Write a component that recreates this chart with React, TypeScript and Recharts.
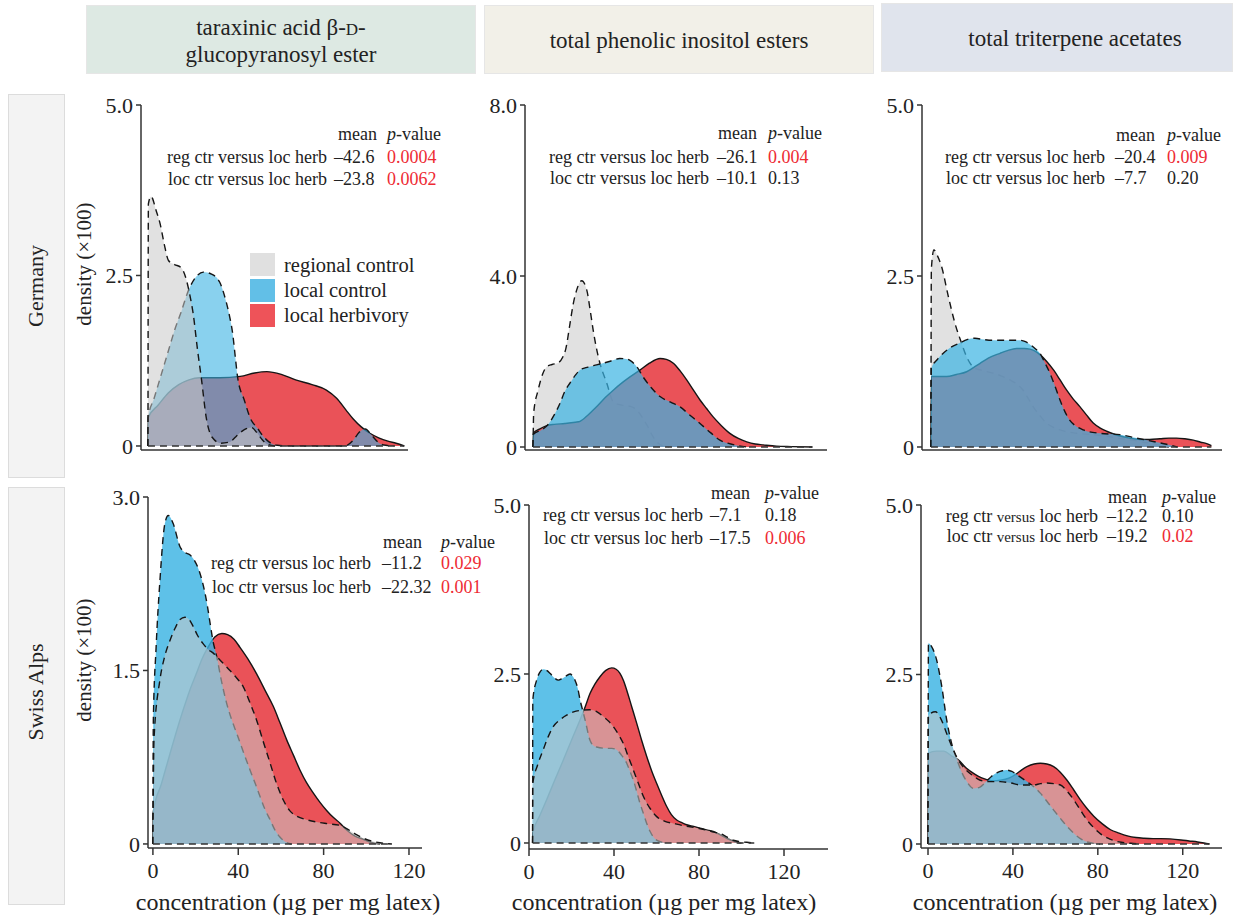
import React from 'react';
import { ComposedChart, Area, XAxis, YAxis, ReferenceLine } from 'recharts';

type Pt = [number, number];

// ---------- labels ----------
const seriesNames = ['regional control', 'local control', 'local herbivory'];
const rowTitles = ['Germany', 'Swiss Alps'];
const yTitle = 'density (×100)';
const xTitle = 'concentration (µg per mg latex)';
const xTicks = [0, 40, 80, 120];
const xTickLabels = ['0', '40', '80', '120'];

// ---------- Germany : taraxinic acid ----------
const gerTaraRegional: Pt[] = [[0, 0], [0.2, 3.55], [1.5, 3.66], [4, 3.45], [6, 3.25], [8, 2.95], [10, 2.72], [13, 2.66], [16, 2.62], [18.6, 2.45], [20.5, 2.2], [22, 1.95], [24.2, 1.4], [26, 1.0], [28.5, 0.4], [31.5, 0.12], [35.5, 0.04], [40, 0.06], [43, 0.14], [47, 0.24], [50.5, 0.27], [53, 0.2], [55.5, 0.1], [58, 0.03], [62, 0]];
const gerTaraLocal: Pt[] = [[0, 0], [0.2, 0.43], [3, 0.7], [6, 1.0], [10, 1.4], [13, 1.7], [16, 1.95], [20, 2.3], [24, 2.5], [27, 2.55], [31, 2.52], [35, 2.4], [37.9, 2.14], [39.8, 1.9], [41.3, 1.65], [42.6, 1.3], [43.7, 1.01], [47, 0.67], [50, 0.4], [53.4, 0.26], [56, 0.15], [59, 0.06], [63, 0.01], [68, 0], [96, 0], [100, 0.08], [103, 0.2], [106, 0.25], [109, 0.16], [112, 0.06], [116, 0.01], [120, 0]];
const gerTaraHerb: Pt[] = [[0, 0], [0.2, 0.42], [5, 0.6], [10, 0.78], [15, 0.9], [20, 0.97], [25, 1.0], [35, 1.0], [45, 1.02], [52, 1.07], [58, 1.09], [65, 1.05], [72, 0.97], [80, 0.9], [87, 0.82], [92, 0.7], [96.5, 0.53], [100, 0.4], [104, 0.28], [108, 0.19], [112.5, 0.12], [117, 0.07], [121, 0.04], [125, 0]];

// ---------- Germany : phenolic inositol esters ----------
const gerPhenRegional: Pt[] = [[0, 0], [0.3, 0.8], [2.4, 1.33], [4.5, 1.7], [6.5, 1.88], [9, 1.93], [11.9, 1.97], [14, 2.1], [15.5, 2.3], [17.5, 2.9], [19, 3.35], [20.6, 3.67], [23, 3.89], [25.4, 3.67], [27, 3.2], [28.4, 2.74], [30, 2.3], [31.6, 1.96], [34.8, 1.5], [38, 1.05], [42, 0.98], [46, 0.95], [49, 0.87], [51.5, 0.7], [54, 0.5], [56, 0.3], [58.5, 0.12], [61, 0.03], [64, 0]];
const gerPhenLocal: Pt[] = [[0, 0], [0.2, 0.3], [4, 0.4], [7, 0.52], [10, 0.75], [12.8, 1.03], [15, 1.3], [17.5, 1.5], [20, 1.68], [22.2, 1.8], [26, 1.87], [30, 1.92], [36, 2.0], [41, 2.07], [44, 2.06], [46, 2.02], [49, 1.88], [52, 1.64], [56, 1.38], [60, 1.18], [65, 1.05], [69.4, 0.94], [74, 0.75], [78.9, 0.55], [84, 0.33], [88.3, 0.16], [92, 0.09], [96, 0.04], [101, 0]];
const gerPhenHerb: Pt[] = [[0, 0], [0.2, 0.33], [3, 0.42], [6.5, 0.5], [10, 0.53], [15, 0.55], [20, 0.58], [22.2, 0.6], [26, 0.75], [30, 0.94], [34, 1.15], [37.9, 1.33], [42, 1.5], [45.8, 1.64], [50.5, 1.8], [55, 1.96], [60, 2.07], [63, 2.05], [66.3, 1.96], [69.5, 1.78], [72.6, 1.57], [75.8, 1.33], [78.9, 1.1], [82, 0.9], [85, 0.71], [89, 0.5], [93, 0.32], [97, 0.2], [101, 0.12], [105, 0.07], [108.7, 0.05], [115, 0.02], [122, 0.01], [132, 0]];

// ---------- Germany : triterpene acetates ----------
const gerTritRegional: Pt[] = [[0, 0], [0.2, 2.6], [1.4, 2.88], [3, 2.8], [5, 2.64], [8.2, 2.2], [11.3, 1.81], [14.4, 1.52], [16.8, 1.32], [19.9, 1.17], [24, 1.12], [29.3, 1.08], [33, 1.04], [37.2, 0.98], [40.5, 0.92], [43.4, 0.83], [46, 0.7], [48.1, 0.59], [51, 0.47], [54.4, 0.35], [57.5, 0.29], [60.7, 0.25], [68.6, 0.2], [76.4, 0.18], [84.3, 0.15], [90, 0.12], [95, 0.1], [100, 0.07], [104.6, 0.05], [108, 0.02], [112, 0]];
const gerTritLocal: Pt[] = [[0, 0], [0.2, 1.15], [3, 1.28], [5.8, 1.37], [9, 1.45], [13.6, 1.52], [17, 1.57], [20.7, 1.59], [25, 1.57], [29.3, 1.56], [35.6, 1.56], [41.9, 1.56], [44.5, 1.54], [46.6, 1.5], [49, 1.44], [51.3, 1.37], [53.5, 1.24], [56, 1.08], [58.5, 0.88], [60.7, 0.69], [63, 0.52], [65.4, 0.39], [68.5, 0.3], [71.7, 0.25], [79.5, 0.2], [89, 0.18], [96.8, 0.13], [104.6, 0.08], [110.9, 0.04], [116, 0]];
const gerTritHerb: Pt[] = [[0, 0], [0.2, 1.03], [7.4, 1.03], [12, 1.06], [16.8, 1.1], [20, 1.16], [23, 1.22], [27, 1.3], [32.5, 1.37], [36, 1.41], [40.3, 1.44], [44, 1.44], [46.6, 1.43], [49, 1.4], [51.3, 1.35], [54.5, 1.25], [57.6, 1.13], [60.8, 0.98], [63.9, 0.83], [67, 0.7], [70.1, 0.59], [73.2, 0.47], [76.4, 0.35], [79.5, 0.28], [82.7, 0.23], [86, 0.19], [89, 0.16], [93.5, 0.13], [98.4, 0.11], [103, 0.11], [107.8, 0.12], [112, 0.13], [115.6, 0.13], [119.5, 0.12], [123.5, 0.1], [127, 0.07], [129.8, 0.05], [132, 0.02]];

// ---------- Swiss Alps : taraxinic acid ----------
const swTaraRegional: Pt[] = [[0, 0], [0.5, 0.9], [3.3, 1.42], [5.5, 1.62], [8, 1.76], [10.5, 1.87], [12.7, 1.94], [15, 1.96], [17, 1.94], [18.9, 1.88], [21, 1.8], [23.6, 1.73], [26, 1.68], [28.3, 1.65], [29.9, 1.62], [33, 1.56], [36.1, 1.5], [39, 1.44], [42.3, 1.36], [45.5, 1.22], [48.6, 1.07], [51.8, 0.88], [54.9, 0.7], [58, 0.52], [61.1, 0.38], [64, 0.29], [67.4, 0.24], [72, 0.21], [76.7, 0.19], [82, 0.175], [87.7, 0.16], [91, 0.13], [94.5, 0.09], [98.6, 0.05], [102.5, 0.025], [106.4, 0.01], [112, 0]];
const swTaraLocal: Pt[] = [[0, 0], [0.2, 1.07], [1.5, 1.7], [3.3, 2.28], [5.6, 2.77], [7.2, 2.84], [9.5, 2.77], [12.7, 2.57], [15, 2.52], [17.3, 2.5], [19.5, 2.45], [21.3, 2.38], [23, 2.28], [24.4, 2.17], [25.6, 2.05], [26.7, 1.92], [28.1, 1.76], [29.9, 1.62], [32, 1.42], [34.5, 1.22], [36.8, 1.08], [39.2, 0.96], [42.3, 0.8], [45.5, 0.64], [48, 0.52], [50.2, 0.41], [52.5, 0.3], [54.9, 0.21], [57.2, 0.12], [59.5, 0.06], [62, 0.02], [65, 0]];
const swTaraHerb: Pt[] = [[0, 0], [0.2, 0.28], [4, 0.52], [8, 0.78], [11, 0.97], [14.2, 1.16], [17.3, 1.33], [20.5, 1.48], [23, 1.6], [25.2, 1.68], [29, 1.79], [32.3, 1.82], [35, 1.81], [38, 1.77], [40.8, 1.7], [44.5, 1.6], [48.6, 1.47], [52.5, 1.33], [56.4, 1.19], [59.5, 1.05], [62.7, 0.9], [65.8, 0.77], [68.9, 0.64], [72, 0.53], [75.2, 0.44], [78.3, 0.36], [81.4, 0.29], [84.5, 0.23], [87.7, 0.18], [90.8, 0.12], [94.5, 0.07], [98.6, 0.04], [102, 0.015], [106.4, 0]];

// ---------- Swiss Alps : phenolic inositol esters ----------
const swPhenRegional: Pt[] = [[1.7, 0], [1.8, 0.88], [4, 1.15], [6.7, 1.38], [9, 1.57], [11.4, 1.72], [14.5, 1.82], [17.7, 1.89], [21, 1.94], [24, 1.96], [28.7, 1.97], [32, 1.94], [35, 1.87], [37.5, 1.8], [39.7, 1.72], [42, 1.61], [44.4, 1.47], [46.7, 1.28], [49.1, 1.08], [51.5, 0.88], [53.8, 0.69], [57, 0.51], [60.1, 0.39], [64, 0.32], [67.9, 0.29], [72, 0.26], [75.8, 0.24], [80, 0.215], [83.6, 0.19], [87, 0.16], [89.9, 0.14], [93, 0.09], [96.1, 0.04], [99, 0.02], [102.4, 0.01], [106, 0]];
const swPhenLocal: Pt[] = [[1.7, 0], [1.8, 2.12], [3.6, 2.41], [5, 2.52], [6.7, 2.57], [8.5, 2.55], [9.9, 2.51], [12, 2.44], [13.8, 2.41], [15.5, 2.43], [17, 2.46], [19.3, 2.5], [20.5, 2.47], [21.6, 2.41], [23, 2.28], [24, 2.12], [25.2, 1.97], [26.4, 1.82], [28.7, 1.52], [30, 1.45], [31.8, 1.42], [36.5, 1.4], [39, 1.4], [41.2, 1.38], [43.5, 1.3], [46, 1.18], [47.5, 1.06], [49.1, 0.93], [50.7, 0.76], [52.2, 0.59], [53.8, 0.44], [55.4, 0.29], [57, 0.17], [58.5, 0.09], [61.7, 0.02], [65, 0]];
const swPhenHerb: Pt[] = [[1.7, 0], [1.8, 0.15], [5, 0.4], [8.3, 0.64], [12, 0.92], [16.2, 1.23], [20, 1.52], [24, 1.82], [26.5, 2.02], [28.7, 2.21], [31, 2.35], [33.4, 2.46], [36, 2.55], [38.9, 2.59], [41, 2.57], [42.8, 2.51], [44.5, 2.4], [46, 2.26], [48.3, 2.02], [50.7, 1.77], [53, 1.52], [55.4, 1.28], [57.7, 1.07], [60.1, 0.88], [62.5, 0.7], [64.8, 0.54], [67, 0.42], [69.5, 0.34], [72, 0.3], [74.2, 0.27], [77.5, 0.245], [80.5, 0.22], [83.5, 0.195], [86.7, 0.17], [90, 0.12], [93, 0.07], [95.5, 0.035], [97.7, 0.01], [100, 0]];

// ---------- Swiss Alps : triterpene acetates ----------
const swTritRegional: Pt[] = [[0, 0], [0.2, 1.9], [3.5, 1.95], [6, 1.85], [8.8, 1.63], [11.2, 1.44], [13.6, 1.28], [16, 1.16], [18.3, 1.08], [21.5, 1.0], [24.6, 0.94], [29, 0.92], [34, 0.92], [39, 0.9], [43.5, 0.87], [49.8, 0.87], [53, 0.89], [56, 0.9], [59.2, 0.89], [62.4, 0.87], [65.5, 0.78], [68.7, 0.65], [71.8, 0.5], [75, 0.35], [78.1, 0.24], [81.3, 0.15], [84.5, 0.09], [87.6, 0.05], [91, 0.025], [95.5, 0.01], [100, 0]];
const swTritLocal: Pt[] = [[0, 0], [0.2, 2.96], [1.7, 2.91], [4.1, 2.71], [6.5, 2.32], [8.8, 1.83], [11, 1.5], [13.6, 1.25], [16, 1.05], [18.3, 0.92], [21.4, 0.82], [24.5, 0.84], [27.7, 0.93], [30, 1.0], [32.4, 1.05], [35, 1.08], [37.2, 1.09], [39.5, 1.07], [41.9, 1.02], [46.6, 0.92], [50, 0.84], [52.9, 0.75], [56, 0.63], [59.2, 0.5], [62.3, 0.38], [65.5, 0.26], [68.6, 0.16], [71.8, 0.08], [75, 0.03], [78, 0.01], [81, 0]];
const swTritHerb: Pt[] = [[0, 0], [0.2, 1.34], [4, 1.37], [7.5, 1.37], [11, 1.3], [14, 1.25], [18, 1.12], [22, 1.03], [25, 0.98], [27.7, 0.95], [31, 0.93], [34, 0.94], [38, 0.97], [41.9, 1.04], [44, 1.09], [46.6, 1.14], [50, 1.18], [52.9, 1.19], [56, 1.18], [59.2, 1.14], [62.3, 1.06], [65.5, 0.94], [68.6, 0.8], [71.8, 0.65], [75, 0.52], [78.1, 0.41], [82, 0.3], [86, 0.21], [90, 0.16], [93.9, 0.12], [98, 0.095], [101.8, 0.085], [106, 0.08], [109.7, 0.08], [114, 0.075], [119.2, 0.06], [123, 0.045], [127, 0.03], [130, 0.015], [132.6, 0]];

// ---------- statistics text ----------
const statMeans = [['–42.6', '–23.8'], ['–26.1', '–10.1'], ['–20.4', '–7.7'], ['–11.2', '–22.32'], ['–7.1', '–17.5'], ['–12.2', '–19.2']];
const statPValues = [['0.0004', '0.0062'], ['0.004', '0.13'], ['0.009', '0.20'], ['0.029', '0.001'], ['0.18', '0.006'], ['0.10', '0.02']];
const statSignificant = [[true, true], [true, false], [true, false], [true, true], [false, true], [false, true]];

const SERIF = '"Liberation Serif", "Times New Roman", Times, serif';
const GREY = '#c8c8c8';
const BLUE = '#3bb3e3';
const RED = '#e8434a';
const INK = '#222';
const PRED = '#ee2a33';

type Key = 'rc' | 'lc' | 'lh';
interface PanelCfg {
  series: Record<Key, Pt[]>;
  order: Key[];
  opacity: Record<Key, number>;
  axisX: number; topPx: number; axisY: number; right: number;
  xDomain: [number, number]; yDomain: [number, number];
  yTicks: number[]; yLabels: string[];
  bottom: boolean;
}

const topOrder: Key[] = ['lh', 'lc', 'rc'];
const bgOrder: Key[] = ['rc', 'lh', 'lc'];

const panels: PanelCfg[] = [
  { series: { rc: gerTaraRegional, lc: gerTaraLocal, lh: gerTaraHerb }, order: topOrder, opacity: { rc: 0.55, lc: 0.6, lh: 0.92 },
    axisX: 141, topPx: 105, axisY: 450, right: 408, xDomain: [-3.4, 126.8], yDomain: [-0.059, 5], yTicks: [0, 2.5, 5], yLabels: ['0', '2.5', '5.0'], bottom: false },
  { series: { rc: gerPhenRegional, lc: gerPhenLocal, lh: gerPhenHerb }, order: bgOrder, opacity: { rc: 0.55, lc: 0.7, lh: 0.92 },
    axisX: 525, topPx: 105, axisY: 450, right: 827, xDomain: [-3.8, 138.9], yDomain: [-0.07, 8], yTicks: [0, 4, 8], yLabels: ['0', '4.0', '8.0'], bottom: false },
  { series: { rc: gerTritRegional, lc: gerTritLocal, lh: gerTritHerb }, order: bgOrder, opacity: { rc: 0.55, lc: 0.7, lh: 0.92 },
    axisX: 922, topPx: 105, axisY: 450, right: 1222, xDomain: [-4.2, 137], yDomain: [-0.044, 5], yTicks: [0, 2.5, 5], yLabels: ['0', '2.5', '5.0'], bottom: false },
  { series: { rc: swTaraRegional, lc: swTaraLocal, lh: swTaraHerb }, order: topOrder, opacity: { rc: 0.55, lc: 0.82, lh: 0.92 },
    axisX: 148, topPx: 497, axisY: 848, right: 422, xDomain: [-2.3, 126.1], yDomain: [-0.035, 3], yTicks: [0, 1.5, 3], yLabels: ['0', '1.5', '3.0'], bottom: true },
  { series: { rc: swPhenRegional, lc: swPhenLocal, lh: swPhenHerb }, order: topOrder, opacity: { rc: 0.55, lc: 0.82, lh: 0.92 },
    axisX: 529, topPx: 505, axisY: 849, right: 828, xDomain: [0, 140.7], yDomain: [-0.089, 5], yTicks: [0, 2.5, 5], yLabels: ['0', '2.5', '5.0'], bottom: true },
  { series: { rc: swTritRegional, lc: swTritLocal, lh: swTritHerb }, order: topOrder, opacity: { rc: 0.55, lc: 0.82, lh: 0.92 },
    axisX: 921, topPx: 505, axisY: 848, right: 1222, xDomain: [-3.3, 138.5], yDomain: [-0.059, 5], yTicks: [0, 2.5, 5], yLabels: ['0', '2.5', '5.0'], bottom: true },
];

const colorOf: Record<Key, string> = { rc: GREY, lc: BLUE, lh: RED };

function Panel({ cfg }: { cfg: PanelCfg }) {
  const YW = 60, MT = 20, MR = 4;
  const XH = cfg.bottom ? 40 : 12;
  const plotW = cfg.right - cfg.axisX;
  const plotH = cfg.axisY - cfg.topPx;
  const width = YW + plotW + MR;
  const height = MT + plotH + XH;
  const allPts = [...cfg.series.rc, ...cfg.series.lc, ...cfg.series.lh];
  const minX = Math.min(...allPts.map((p) => p[0]));
  const maxX = Math.max(...allPts.map((p) => p[0]));
  return (
    <div style={{ position: 'absolute', left: cfg.axisX - YW, top: cfg.topPx - MT }}>
      <ComposedChart width={width} height={height} margin={{ top: MT, right: MR, bottom: 0, left: 0 }}>
        <XAxis type="number" dataKey="x" domain={cfg.xDomain} ticks={xTicks} allowDataOverflow interval={0}
          height={XH} tickSize={7} tickMargin={7}
          axisLine={{ stroke: '#333', strokeWidth: 1.5 }} tickLine={{ stroke: '#333', strokeWidth: 1.5 }}
          tick={cfg.bottom ? { fill: INK, fontSize: 22, fontFamily: SERIF } : false}
          tickFormatter={(v: number) => xTickLabels[xTicks.indexOf(v)] ?? String(v)} />
        <YAxis type="number" domain={cfg.yDomain} ticks={cfg.yTicks} allowDataOverflow interval={0}
          width={YW} tickSize={5} tickMargin={3}
          axisLine={{ stroke: '#333', strokeWidth: 1.5 }} tickLine={{ stroke: '#333', strokeWidth: 1.5 }}
          tick={{ fill: INK, fontSize: 22, fontFamily: SERIF }}
          tickFormatter={(v: number) => cfg.yLabels[cfg.yTicks.indexOf(v)] ?? String(v)} />
        {cfg.order.map((k) => (
          <Area key={k} data={cfg.series[k].map(([x, y]) => ({ x, y }))} dataKey="y" type="monotone"
            baseValue={0} fill={colorOf[k]} fillOpacity={cfg.opacity[k]}
            stroke="#151515" strokeWidth={1.4}
            strokeDasharray={k === 'lh' ? undefined : '7 5'}
            dot={false} activeDot={false} isAnimationActive={false} name={seriesNames[['rc', 'lc', 'lh'].indexOf(k)]} />
        ))}
        <ReferenceLine segment={[{ x: minX, y: 0 }, { x: maxX, y: 0 }]} stroke="#333" strokeWidth={1.4} strokeDasharray="7 5" />
      </ComposedChart>
    </div>
  );
}

function T({ x, y, a = 'start', size = 18, color = INK, rot, children }: { x: number; y: number; a?: 'start' | 'middle' | 'end'; size?: number; color?: string; rot?: number; children: React.ReactNode }) {
  const tx = a === 'start' ? '0' : a === 'middle' ? '-50%' : '-100%';
  return (
    <div style={{ position: 'absolute', left: x, top: y, transform: `translate(${tx}, -50%)${rot ? ` rotate(${rot}deg)` : ''}`, whiteSpace: 'nowrap', fontSize: size, color, lineHeight: 1, fontFamily: SERIF }}>
      {children}
    </div>
  );
}

interface StatPos { aRight: number; valLeft: number; meanRight: number; pLeft: number; ys: number[]; smallVersus?: boolean }
const statPos: StatPos[] = [
  { aRight: 327, valLeft: 334, meanRight: 377, pLeft: 387, ys: [134, 157, 179] },
  { aRight: 709, valLeft: 717, meanRight: 757, pLeft: 768, ys: [133, 157, 178] },
  { aRight: 1105, valLeft: 1115, meanRight: 1155, pLeft: 1167, ys: [135, 157, 178] },
  { aRight: 371, valLeft: 382, meanRight: 422, pLeft: 441, ys: [542, 563, 587] },
  { aRight: 703, valLeft: 710, meanRight: 750, pLeft: 765, ys: [493, 515, 538] },
  { aRight: 1098, valLeft: 1107, meanRight: 1147, pLeft: 1162, ys: [497, 516, 536], smallVersus: true },
];
const compLabels = [['reg ctr', 'loc herb'], ['loc ctr', 'loc herb']];

function Stats({ i }: { i: number }) {
  const p = statPos[i];
  const fs = 18;
  return (
    <>
      <T x={p.meanRight} y={p.ys[0]} a="end" size={fs}>mean</T>
      <T x={p.pLeft} y={p.ys[0]} size={fs}><i>p</i>-value</T>
      {[0, 1].map((r) => (
        <React.Fragment key={r}>
          <T x={p.aRight} y={p.ys[r + 1]} a="end" size={fs}>
            {compLabels[r][0]} {p.smallVersus ? <span style={{ fontSize: 15 }}>versus</span> : 'versus'} {compLabels[r][1]}
          </T>
          <T x={p.valLeft} y={p.ys[r + 1]} size={fs}>{statMeans[i][r]}</T>
          <T x={p.pLeft} y={p.ys[r + 1]} size={fs} color={statSignificant[i][r] ? PRED : INK}>{statPValues[i][r]}</T>
        </React.Fragment>
      ))}
    </>
  );
}

const headerBoxes = [
  { x: 86, w: 390, y: 5, h: 69, bg: '#dde9e3' },
  { x: 484, w: 390, y: 5, h: 69, bg: '#f2f0e8' },
  { x: 881, w: 352, y: 3, h: 69, bg: '#e0e4ed' },
];
const rowBoxes = [
  { y: 94, h: 384 },
  { y: 487, h: 418 },
];

export default function App() {
  return (
    <div style={{ position: 'absolute', left: 0, top: 0, width: 1233, height: 916, background: '#fff', fontFamily: SERIF, color: INK, overflow: 'hidden' }}>
      {headerBoxes.map((b, i) => (
        <div key={i} style={{ position: 'absolute', left: b.x, top: b.y, width: b.w, height: b.h, background: b.bg, boxSizing: 'border-box', border: '1px solid #e6e6e6' }} />
      ))}
      <T x={281} y={27} a="middle" size={23}>taraxinic acid β-<span style={{ fontSize: 17 }}>D</span>-</T>
      <T x={281} y={54} a="middle" size={23}>glucopyranosyl ester</T>
      <T x={679} y={40} a="middle" size={23}>total phenolic inositol esters</T>
      <T x={1075} y={38} a="middle" size={23}>total triterpene acetates</T>

      {rowBoxes.map((b, i) => (
        <div key={i} style={{ position: 'absolute', left: 8, top: b.y, width: 57, height: b.h, background: '#f3f3f3', boxSizing: 'border-box', border: '1.5px solid #dcdcdc' }} />
      ))}
      <T x={36} y={286} a="middle" size={22} rot={-90}>{rowTitles[0]}</T>
      <T x={36} y={692} a="middle" size={22} rot={-90}>{rowTitles[1]}</T>
      <T x={84} y={264} a="middle" size={21} rot={-90}>{yTitle}</T>
      <T x={84} y={660} a="middle" size={21} rot={-90}>{yTitle}</T>

      {panels.map((cfg, i) => <Panel key={i} cfg={cfg} />)}

      {panels.map((_, i) => <Stats key={i} i={i} />)}

      {/* legend */}
      {[0, 1, 2].map((k) => (
        <React.Fragment key={k}>
          <div style={{ position: 'absolute', left: 250, top: 253 + k * 25.5, width: 25, height: 23, background: k === 0 ? '#e0e0e0' : k === 1 ? '#62bfe7' : '#ee5359' }} />
          <T x={284} y={265 + k * 25} size={20.5}>{seriesNames[k]}</T>
        </React.Fragment>
      ))}

      <T x={288} y={902} a="middle" size={24}>{xTitle}</T>
      <T x={664} y={902} a="middle" size={24}>{xTitle}</T>
      <T x={1065} y={902} a="middle" size={24}>{xTitle}</T>
    </div>
  );
}
